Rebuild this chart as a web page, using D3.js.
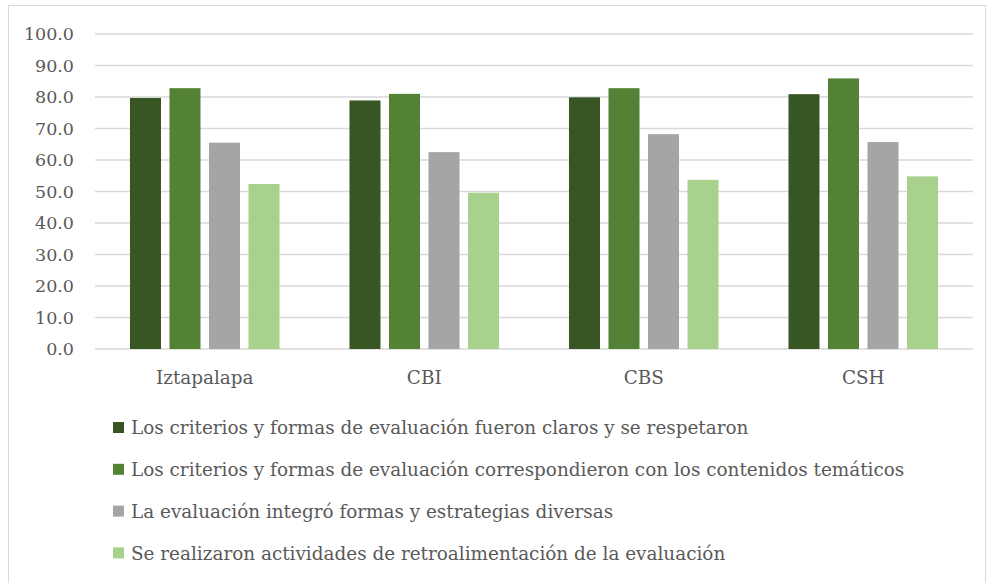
<!DOCTYPE html>
<html>
<head>
<meta charset="utf-8">
<script src="https://cdn.jsdelivr.net/npm/d3@7"></script>
<style>
  body { margin: 0; background: #fff; }
  text { font-family: "Palatino Linotype", "Book Antiqua", "DejaVu Serif", serif; fill: #595959; }
</style>
</head>
<body>
<script>
// chart data
var categories = ["Iztapalapa", "CBI", "CBS", "CSH"];
var seriesNames = [
	"Los criterios y formas de evaluación fueron claros y se respetaron",
	"Los criterios y formas de evaluación correspondieron con los contenidos temáticos",
	"La evaluación integró formas y estrategias diversas",
	"Se realizaron actividades de retroalimentación de la evaluación"
];
var claros = [79.7, 78.9, 79.9, 80.9];
var correspondieron = [82.8, 81.0, 82.8, 85.9];
var integro = [65.5, 62.5, 68.2, 65.7];
var retroalimentacion = [52.4, 49.6, 53.7, 54.8];
var yTicks = [0, 10, 20, 30, 40, 50, 60, 70, 80, 90, 100];

var colors = ["#375623", "#548235", "#a5a5a5", "#a9d18e"];
var seriesValues = [claros, correspondieron, integro, retroalimentacion];

var width = 989, height = 583;
var svg = d3.select("body").append("svg").attr("width", width).attr("height", height);

// chart border
svg.append("rect")
	.attr("x", 8.5).attr("y", 5.5)
	.attr("width", 977).attr("height", 600)
	.attr("fill", "none").attr("stroke", "#d9d9d9").attr("stroke-width", 1);

var plotLeft = 95, plotRight = 973, plotTop = 34, plotBottom = 349;

var y = d3.scaleLinear().domain([0, 100]).range([plotBottom, plotTop]);
var x0 = d3.scaleBand().domain(categories).range([plotLeft, plotRight]).paddingInner(0.28).paddingOuter(0.14);
var x1 = d3.scaleBand().domain(d3.range(seriesNames.length)).range([0, x0.bandwidth()]).paddingInner(0.215).paddingOuter(0.1075);

// gridlines
svg.append("g").selectAll("line")
	.data(yTicks)
	.enter().append("line")
	.attr("x1", plotLeft).attr("x2", plotRight)
	.attr("y1", function (d) { return y(d); })
	.attr("y2", function (d) { return y(d); })
	.attr("stroke", "#d9d9d9").attr("stroke-width", 1.5);

// y axis labels
svg.append("g").selectAll("text")
	.data(yTicks)
	.enter().append("text")
	.attr("x", 74)
	.attr("y", function (d) { return y(d); })
	.attr("dy", "0.35em")
	.attr("text-anchor", "end")
	.style("font-size", "17.5px")
	.text(function (d) { return d3.format(".1f")(d); });

// bars
var rows = [];
categories.forEach(function (c, i) {
	seriesValues.forEach(function (vals, s) {
		rows.push({ cat: c, s: s, v: vals[i] });
	});
});

svg.append("g").selectAll("rect")
	.data(rows)
	.enter().append("rect")
	.attr("x", function (d) { return x0(d.cat) + x1(d.s); })
	.attr("y", function (d) { return y(d.v); })
	.attr("width", x1.bandwidth())
	.attr("height", function (d) { return y(0) - y(d.v); })
	.attr("fill", function (d) { return colors[d.s]; });

// category labels
svg.append("g").selectAll("text")
	.data(categories)
	.enter().append("text")
	.attr("x", function (d) { return x0(d) + x0.bandwidth() / 2; })
	.attr("y", 378)
	.attr("dy", "0.35em")
	.attr("text-anchor", "middle")
	.style("font-size", "18.4px")
	.text(function (d) { return d; });

// legend
var legend = svg.append("g").selectAll("g")
	.data(seriesNames)
	.enter().append("g")
	.attr("transform", function (d, i) { return "translate(113," + (428 + i * 41.8) + ")"; });

legend.append("rect")
	.attr("x", 0).attr("y", -6)
	.attr("width", 11).attr("height", 11)
	.attr("fill", function (d, i) { return colors[i]; });

legend.append("text")
	.attr("x", 18).attr("y", 0)
	.attr("dy", "0.35em")
	.style("font-size", "18.4px")
	.text(function (d) { return d; });
</script>
</body>
</html>
